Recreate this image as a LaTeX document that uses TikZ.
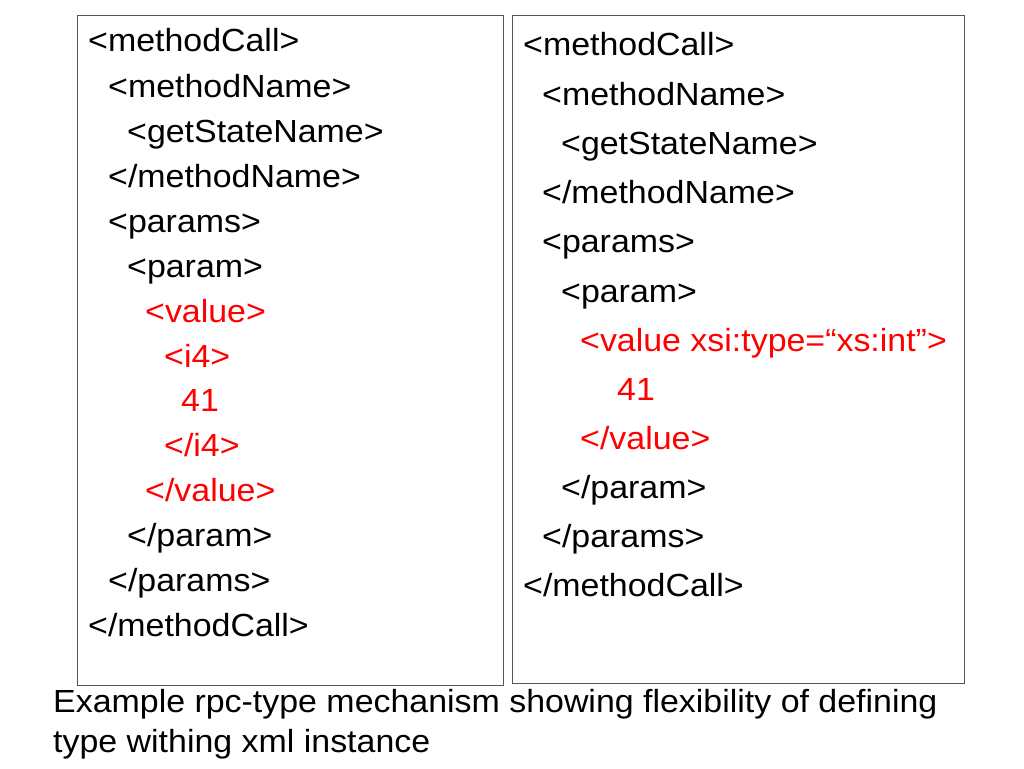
\documentclass[tikz,border=0pt]{standalone}
\usepackage{fontspec}
\setmainfont{Liberation Sans}[FakeStretch=1.06]
\definecolor{frame}{RGB}{85,85,85}
\definecolor{hilite}{RGB}{255,0,0}
\usetikzlibrary{
	positioning,
	backgrounds % 背景边框
}
\tikzset{
  % box
	cstbox/.style     ={draw=frame, line width=1pt},
  % text line
	cstline/.style    ={anchor=base west, inner sep=0pt, font=\fontsize{32}{40}\selectfont},
	cstred/.style     ={cstline, text=hilite},
	cstcap/.style     ={anchor=base west, inner sep=0pt, font=\fontsize{32}{40}\selectfont}
}
\begin{document}
\begin{tikzpicture}[x=1pt,y=-1pt]
				\useasboundingbox (0,0) rectangle (1024,768);
				% two frames
				\draw[cstbox] (77,16) rectangle (503,685);
				\draw[cstbox] (512,16) rectangle (964,683);
				% left: i4 element
				\node[cstline] (L1)  at (88,52)  {<methodCall>};
				\node[cstline] (L2)  at (108,97) {<methodName>};
				\node[cstline] (L3)  at (127,142) {<getStateName>};
				\node[cstline] (L4)  at (108,187) {</methodName>};
				\node[cstline] (L5)  at (108,232) {<params>};
				\node[cstline] (L6)  at (127,277) {<param>};
				\node[cstred]  (L7)  at (145,322) {<value>};
				\node[cstred]  (L8)  at (164,367) {<i4>};
				\node[cstred]  (L9)  at (181,411) {41};
				\node[cstred]  (L10) at (164,456) {</i4>};
				\node[cstred]  (L11) at (145,501) {</value>};
				\node[cstline] (L12) at (127,546) {</param>};
				\node[cstline] (L13) at (108,591) {</params>};
				\node[cstline] (L14) at (88,636) {</methodCall>};
				% right: xsi:type attribute
				\node[cstline] (R1)  at (523,56)  {<methodCall>};
				\node[cstline] (R2)  at (542,105) {<methodName>};
				\node[cstline] (R3)  at (561,154) {<getStateName>};
				\node[cstline] (R4)  at (542,203) {</methodName>};
				\node[cstline] (R5)  at (542,252) {<params>};
				\node[cstline] (R6)  at (561,302) {<param>};
				\node[cstred]  (R7)  at (580,351) {<value xsi:type=“xs:int”>};
				\node[cstred]  (R8)  at (617,400) {41};
				\node[cstred]  (R9)  at (580,449) {</value>};
				\node[cstline] (R10) at (561,498) {</param>};
				\node[cstline] (R11) at (542,547) {</params>};
				\node[cstline] (R12) at (523,596) {</methodCall>};
				% caption
				\node[cstcap] (cap1) at (53,712) {Example rpc-type mechanism showing flexibility of defining};
				\node[cstcap] (cap2) at (53,752) {type withing xml instance};
			\end{tikzpicture}
\end{document}
